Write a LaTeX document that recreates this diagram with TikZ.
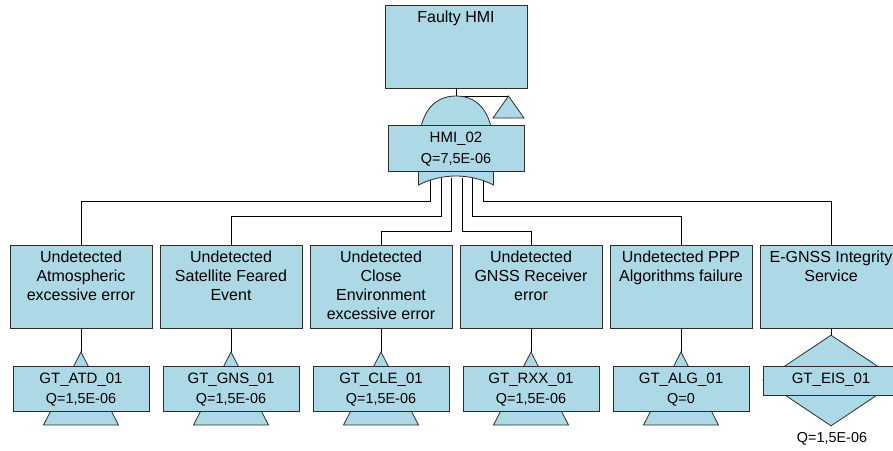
\documentclass[tikz,border=0pt]{standalone}
\usepackage{fontspec}
\setmainfont{Liberation Sans}
\usetikzlibrary{shapes.geometric}
\pgfdeclarelayer{bg}
\pgfsetlayers{bg,main}
\definecolor{evfill}{RGB}{173,216,230}
\definecolor{evline}{RGB}{45,45,45}
\newcommand{\qfont}{\fontsize{14.4}{17}\selectfont}
\begin{document}
\begin{tikzpicture}[x=1pt,y=-1pt,
  box/.style={draw=evline,fill=evfill,line width=0.8pt,inner sep=0pt},
  evtext/.style={anchor=north,align=center,inner sep=0pt,font=\fontsize{16}{19}\selectfont},
  gttext/.style={align=center,inner sep=0pt,font=\fontsize{15}{20.3}\selectfont},
  qtext/.style={inner sep=0pt,font=\qfont},
  wire/.style={draw=black,line width=0.8pt}]
\useasboundingbox (0,0) rectangle (893,450);
\node[box,minimum width=142pt,minimum height=83pt] (faulty) at (456,46.5) {};
\node[evtext] (faultytxt) at (456,10.5) {Faulty HMI};
\coordinate (gtop) at (456,96);
\coordinate (xfer) at (508.5,96);
\filldraw[box] (gtop) .. controls (432,96) and (418.5,115) .. (418.5,150) -- (418.5,185)
  .. controls (442,173) and (470,173) .. (493.5,185) -- (493.5,150)
  .. controls (493.5,115) and (480,96) .. (gtop) -- cycle;
\filldraw[box] (xfer) -- (524,118) -- (493,118) -- cycle;
\node[box,minimum width=136pt,minimum height=46pt] (hmi) at (456,148) {};
\node[gttext] (hmitxt) at (456,149) {HMI\_02\\{\qfont Q=7,5E-06}};
\foreach \i/\cx/\txt in {1/81/{Undetected\\Atmospheric\\excessive error},
    2/231/{Undetected\\Satellite Feared\\Event},
    3/381/{Undetected\\Close\\Environment\\excessive error},
    4/531/{Undetected\\GNSS Receiver\\error},
    5/681/{Undetected PPP\\Algorithms failure},
    6/831/{E-GNSS Integrity\\Service}}
  {\node[box,minimum width=142pt,minimum height=83pt] (mid\i) at (\cx,286.5) {};
   \node[evtext] (midtxt\i) at (\cx,250.5) {\txt};}
\foreach \i/\cx/\gname/\qval in {1/81/ATD/{1,5E-06},2/231/GNS/{1,5E-06},
    3/381/CLE/{1,5E-06},4/531/RXX/{1,5E-06},5/681/ALG/0}
  {\filldraw[box] (\cx,352) coordinate (tri\i) -- (\cx+37.5,425) -- (\cx-37.5,425) -- cycle;
   \node[box,minimum width=136pt,minimum height=45pt] (gt\i) at (\cx,388.5) {};
   \node[gttext] (gttxt\i) at (\cx,389.3) {GT\_\gname\_01\\{\qfont Q=\qval}};}
\node[box,diamond,minimum width=136pt,minimum height=91pt] (eisd) at (831,380.5) {};
\node[box,minimum width=136pt,minimum height=29pt] (gt6) at (831,380.5) {};
\node[gttext] (gttxt6) at (831,379.5) {GT\_EIS\_01};
\node[qtext] (eisq) at (832,438.5) {Q=1,5E-06};
\begin{pgfonlayer}{bg}
\draw[wire] (faulty.south) -- (gtop) -- (xfer);
\foreach \i/\gx/\h in {1/430/23,2/441/38,3/451/53,4/462/53,5/472/38,6/483/23}
  \draw[wire] (\gx,178) coordinate (g\i) -- ++(0,\h) -| (mid\i.north);
\foreach \i in {1,...,5}
  \draw[wire] (mid\i.south) -- (tri\i);
\draw[wire] (mid6.south) -- (eisd.north);
\end{pgfonlayer}
\end{tikzpicture}
\end{document}
